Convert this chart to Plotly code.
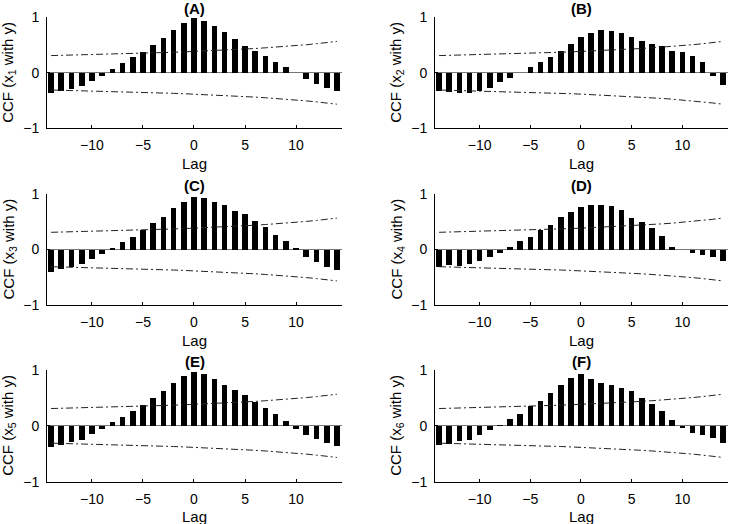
import plotly.graph_objects as go

lags = list(range(-14, 15))

ccf_x1 = [-0.36, -0.33, -0.30, -0.24, -0.14, -0.06, 0.06, 0.17, 0.28, 0.38, 0.50, 0.62, 0.77, 0.89, 0.98,
          0.93, 0.85, 0.73, 0.61, 0.48, 0.40, 0.30, 0.20, 0.11, 0.005, -0.11, -0.20, -0.27, -0.33]
ccf_x2 = [-0.33, -0.35, -0.37, -0.36, -0.32, -0.27, -0.17, -0.10, -0.005, 0.10, 0.19, 0.28, 0.40, 0.52, 0.64,
          0.71, 0.78, 0.75, 0.71, 0.64, 0.58, 0.52, 0.48, 0.40, 0.37, 0.30, 0.19, -0.05, -0.22]
ccf_x3 = [-0.40, -0.36, -0.31, -0.27, -0.17, -0.08, 0.02, 0.13, 0.22, 0.35, 0.47, 0.58, 0.74, 0.86, 0.95,
          0.92, 0.86, 0.80, 0.70, 0.64, 0.52, 0.40, 0.27, 0.15, 0.02, -0.13, -0.23, -0.32, -0.37]
ccf_x4 = [-0.31, -0.28, -0.29, -0.27, -0.21, -0.14, -0.07, 0.04, 0.16, 0.23, 0.35, 0.44, 0.59, 0.68, 0.77,
          0.81, 0.81, 0.79, 0.72, 0.56, 0.49, 0.38, 0.24, 0.05, -0.01, -0.07, -0.10, -0.14, -0.21]
ccf_x5 = [-0.38, -0.34, -0.29, -0.25, -0.14, -0.05, 0.07, 0.16, 0.26, 0.37, 0.49, 0.62, 0.76, 0.89, 0.97,
          0.92, 0.83, 0.74, 0.64, 0.56, 0.43, 0.32, 0.21, 0.08, -0.05, -0.17, -0.24, -0.31, -0.36]
ccf_x6 = [-0.35, -0.32, -0.28, -0.25, -0.16, -0.08, 0.02, 0.12, 0.22, 0.35, 0.45, 0.59, 0.74, 0.85, 0.92,
          0.83, 0.76, 0.73, 0.68, 0.63, 0.50, 0.40, 0.26, 0.10, -0.03, -0.13, -0.17, -0.22, -0.30]

upper_bound = [0.310, 0.314, 0.318, 0.322, 0.327, 0.331, 0.336, 0.341, 0.346, 0.352, 0.358, 0.364, 0.370, 0.377,
               0.384, 0.392, 0.400, 0.409, 0.418, 0.428, 0.438, 0.450, 0.462, 0.475, 0.490, 0.506, 0.524, 0.544, 0.566]
lower_bound = [-v for v in upper_bound]

panel_titles = ["(A)", "(B)", "(C)", "(D)", "(E)", "(F)"]
y_titles = ["CCF (x<sub>1</sub> with y)", "CCF (x<sub>2</sub> with y)", "CCF (x<sub>3</sub> with y)",
            "CCF (x<sub>4</sub> with y)", "CCF (x<sub>5</sub> with y)", "CCF (x<sub>6</sub> with y)"]
series = [ccf_x1, ccf_x2, ccf_x3, ccf_x4, ccf_x5, ccf_x6]
x_ticks = [-10, -5, 0, 5, 10]
y_ticks = [-1, 0, 1]

W, H = 731, 524
col_px = [(47, 342), (435, 728)]
row_px = [(17.3, 128.3), (194, 305), (370, 481.7)]

FONT = "Liberation Sans, Arial, sans-serif"
fig = go.Figure()
annotations = []

for i, vals in enumerate(series):
    r, c = divmod(i, 2)
    n = i + 1
    xa = "x" if n == 1 else f"x{n}"
    ya = "y" if n == 1 else f"y{n}"
    fig.add_trace(go.Bar(x=lags, y=vals, width=0.55, marker=dict(color="black", line=dict(width=0)),
                         xaxis=xa, yaxis=ya, showlegend=False))
    for b in (upper_bound, lower_bound):
        fig.add_trace(go.Scatter(x=lags, y=b, mode="lines", line=dict(color="#222", width=1, dash="7px,3px,2px,3px"),
                                 xaxis=xa, yaxis=ya, showlegend=False))
    x0, x1 = col_px[c]
    yt, yb = row_px[r]
    xd = [x0 / W, x1 / W]
    yd = [1 - yb / H, 1 - yt / H]
    fig.update_layout(**{
        ("xaxis" if n == 1 else f"xaxis{n}"): dict(
            domain=xd, anchor=ya, range=[-14.4, 14.5], tickvals=x_ticks, ticks="inside", ticklen=3,
            tickcolor="black", showline=True, linecolor="black", linewidth=1, showgrid=False, zeroline=False,
            tickfont=dict(family=FONT, size=14, color="black"), ticklabelstandoff=4, automargin=False),
        ("yaxis" if n == 1 else f"yaxis{n}"): dict(
            domain=yd, anchor=xa, range=[-1, 1], tickvals=y_ticks, ticks="inside", ticklen=3,
            tickcolor="black", showline=True, linecolor="black", linewidth=1, showgrid=False,
            zeroline=True, zerolinecolor="#777", zerolinewidth=1,
            tickfont=dict(family=FONT, size=14, color="black"), ticklabelstandoff=4, automargin=False),
    })
    xc = (x0 + x1) / 2
    annotations.append(dict(text=f"<b>{panel_titles[i]}</b>", x=xc / W, y=1 - (yt - 9) / H, xref="paper", yref="paper",
                            showarrow=False, font=dict(family=FONT, size=15, color="black"), xanchor="center", yanchor="middle"))
    annotations.append(dict(text="Lag", x=xc / W, y=1 - (yb + 35) / H, xref="paper", yref="paper",
                            showarrow=False, font=dict(family=FONT, size=15, color="black"), xanchor="center", yanchor="middle"))
    annotations.append(dict(text=y_titles[i], x=(x0 - 38) / W, y=1 - ((yt + yb) / 2) / H, xref="paper", yref="paper",
                            showarrow=False, textangle=-90, font=dict(family=FONT, size=15, color="black"),
                            xanchor="center", yanchor="middle"))

fig.update_layout(width=W, height=H, margin=dict(l=0, r=0, t=0, b=0, autoexpand=False), paper_bgcolor="white",
                  plot_bgcolor="white", annotations=annotations, bargap=0, hovermode=False)
fig.write_html("out.html", config={"displayModeBar": False, "staticPlot": True},
               post_script="document.body.style.margin='0px';document.body.style.overflow='hidden';")
